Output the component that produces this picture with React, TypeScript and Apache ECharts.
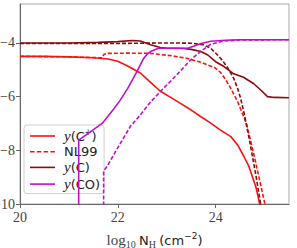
import React, { useEffect, useRef } from "react";
import * as echarts from "echarts";

// log10 N_H (cm^-2) vs log10 abundance
const xTicks = [20, 22, 24];
const yTicks = [-10, -8, -6, -4];

const cPlus: [number, number][] = [
  [20, -4.5], [20.5, -4.5], [21, -4.52], [21.5, -4.55], [21.8, -4.6], [22, -4.68],
  [22.2, -4.86], [22.46, -5.12], [22.67, -5.47], [22.87, -5.8], [23.08, -6.03],
  [23.28, -6.25], [23.5, -6.5], [23.7, -6.75], [23.9, -6.99], [24.1, -7.25],
  [24.31, -7.49], [24.45, -7.8], [24.58, -8.24], [24.68, -8.6], [24.75, -8.98],
  [24.82, -9.35], [24.87, -9.73], [24.91, -10.1],
];
const nl99CPlus: [number, number][] = [
  [20, -4.5], [21, -4.52], [21.6, -4.55], [21.68, -4.55], [21.72, -4.42],
  [21.8, -4.39], [22.2, -4.38], [22.67, -4.39], [23.1, -4.48], [23.4, -4.57],
  [23.7, -4.72], [23.98, -4.92], [24.1, -5.1], [24.2, -5.35], [24.31, -5.69],
  [24.45, -6.19], [24.53, -6.55], [24.63, -7.0], [24.8, -8.3], [25.02, -10.1],
];
const cAtom: [number, number][] = [
  [20, -4.0], [21, -4.0], [21.6, -3.98], [22.0, -3.95], [22.3, -3.91],
  [22.46, -3.93], [22.67, -4.07], [22.87, -4.17], [23.0, -4.2], [23.35, -4.21],
  [23.5, -4.24], [23.7, -4.32], [23.84, -4.45], [24.0, -4.7], [24.17, -4.88],
  [24.37, -5.15], [24.57, -5.28], [24.78, -5.52], [24.95, -5.8], [25.06, -6.0],
  [25.2, -6.03], [25.5, -6.04],
];
const nl99C: [number, number][] = [
  [20, -4.02], [22, -4.02], [23, -4.0], [23.5, -4.01], [23.75, -4.07],
  [23.9, -4.2], [24.04, -4.45], [24.15, -4.68], [24.25, -4.94], [24.37, -5.32],
  [24.45, -5.7], [24.51, -6.06], [24.58, -6.6], [24.7, -7.7], [24.82, -8.9],
  [24.93, -10.1],
];
const co: [number, number][] = [
  [21.2, -10.5], [21.2, -7.62], [21.68, -7.0], [21.9, -6.5], [22.05, -6.13],
  [22.2, -5.7], [22.39, -5.07], [22.52, -4.6], [22.6, -4.42], [22.67, -4.32],
  [22.83, -4.2], [23.1, -4.19], [23.43, -4.2], [23.55, -4.12], [23.7, -4.02],
  [23.9, -3.94], [24.2, -3.9], [24.5, -3.88], [25.5, -3.88],
];
const nl99CO: [number, number][] = [
  [21.71, -10.5], [21.71, -8.77], [21.78, -8.6], [22.0, -7.9], [22.26, -7.1],
  [22.46, -6.68], [22.67, -6.2], [22.87, -5.81], [23.2, -5.2], [23.49, -4.63],
  [23.69, -4.32], [23.9, -4.05], [24.16, -3.93], [24.5, -3.89], [25.5, -3.88],
];

const legendNames = ["y(C+)", "NL99", "y(C)", "y(CO)"];
const legendRich: Record<string, string> = {
  "y(C+)": "{i|y}{n|(C}{sup|+}{n|)}",
  NL99: "{n|NL99}",
  "y(C)": "{i|y}{n|(C)}",
  "y(CO)": "{i|y}{n|(CO)}",
};

const RED = "#ff1010";
const DARK = "#8b0a0a";
const MAG = "#c010c8";

const SOLID_ICON = "path://M0,0h25v1.6h-25z";
const DASH_ICON = "path://M0,0h4.6v1.6h-4.6z M6.8,0h4.6v1.6h-4.6z M13.6,0h4.6v1.6h-4.6z M20.4,0h4.6v1.6h-4.6z";

export default function App() {
  const ref = useRef<HTMLDivElement>(null);
  useEffect(() => {
    document.body.style.margin = "0";
    const chart = echarts.init(ref.current!, undefined, { renderer: "svg" });
    const mk = (name: string, data: [number, number][], color: string, dashed: boolean, z: number) => ({
      name,
      type: "line",
      data,
      symbol: "none",
      showSymbol: false,
      clip: true,
      z,
      itemStyle: { color },
      lineStyle: { color, width: 1.6, type: dashed ? [4, 2] : "solid" },
    });
    const serif = "Liberation Serif";
    const sans = "DejaVu Sans";
    chart.setOption({
      animation: false,
      grid: {
        left: 20, right: 8, top: 4, bottom: 44,
        show: true, borderColor: "#aaa", borderWidth: 1,
        outerBoundsMode: "none",
      },
      xAxis: {
        type: "value", min: 20, max: 25.5, interval: 2,
        axisLine: { show: true, lineStyle: { color: "#666", width: 1 } },
        axisTick: { show: true, length: 4, customValues: xTicks, lineStyle: { color: "#666" } },
        axisLabel: { margin: 6, customValues: xTicks, fontFamily: serif, fontSize: 14, color: "#444" },
        splitLine: { show: false },
        name: "{s|log}{sub|10} {n|N}{hs|H} {n|(cm}{sup|−2}{n|)}",
        nameLocation: "middle",
        nameGap: 27,
        nameTextStyle: {
          rich: {
            s: { fontFamily: serif, fontSize: 15, color: "#444", lineHeight: 18, verticalAlign: "middle" },
            sub: { fontFamily: serif, fontSize: 10, color: "#444", lineHeight: 18, verticalAlign: "bottom" },
            n: { fontFamily: sans, fontSize: 13, color: "#222", lineHeight: 18, verticalAlign: "middle" },
            hs: { fontFamily: serif, fontSize: 10, color: "#444", lineHeight: 18, verticalAlign: "bottom" },
            sup: { fontFamily: sans, fontSize: 9, color: "#222", lineHeight: 18, verticalAlign: "top" },
          },
        },
      },
      yAxis: {
        type: "value", min: -10, max: -2.55, interval: 2,
        axisLine: { show: true, lineStyle: { color: "#666", width: 1 } },
        axisTick: { show: true, length: 4, customValues: yTicks, lineStyle: { color: "#666" } },
        axisLabel: {
          margin: 5, customValues: yTicks, fontFamily: serif, fontSize: 14, color: "#444",
          formatter: (v: number) => (v < 0 ? "−" + Math.abs(v) : String(v)),
        },
        splitLine: { show: false },
      },
      legend: {
        data: [
          { name: legendNames[0], icon: SOLID_ICON, itemStyle: { color: RED } },
          { name: legendNames[1], icon: DASH_ICON, itemStyle: { color: RED } },
          { name: legendNames[2], icon: SOLID_ICON, itemStyle: { color: DARK } },
          { name: legendNames[3], icon: SOLID_ICON, itemStyle: { color: MAG } },
        ],
        orient: "vertical",
        left: 24, top: 125,
        padding: [3, 4, 2, 6],
        itemGap: 1.7,
        itemWidth: 25,
        itemHeight: 1.6,
        backgroundColor: "rgba(255,255,255,0.8)",
        borderColor: "#d0d0d0",
        borderWidth: 1,
        borderRadius: 3,
        formatter: (name: string) => legendRich[name] ?? name,
        textStyle: {
          padding: [0, 0, 0, 4],
          rich: {
            i: { fontFamily: serif, fontStyle: "italic", fontSize: 15, color: "#222", lineHeight: 16, verticalAlign: "middle" },
            n: { fontFamily: sans, fontSize: 13, color: "#222", lineHeight: 16, verticalAlign: "middle" },
            sup: { fontFamily: sans, fontSize: 8, color: "#222", lineHeight: 16, verticalAlign: "top" },
          },
        },
      },
      series: [
        mk("y(C+)", cPlus, RED, false, 3),
        mk("NL99", nl99CPlus, RED, true, 3),
        mk("y(C)", cAtom, DARK, false, 4),
        mk("NL99 C", nl99C, DARK, true, 4),
        mk("y(CO)", co, MAG, false, 5),
        mk("NL99 CO", nl99CO, MAG, true, 5),
      ],
    });
    return () => chart.dispose();
  }, []);
  return <div ref={ref} style={{ width: 297, height: 248 }} />;
}
